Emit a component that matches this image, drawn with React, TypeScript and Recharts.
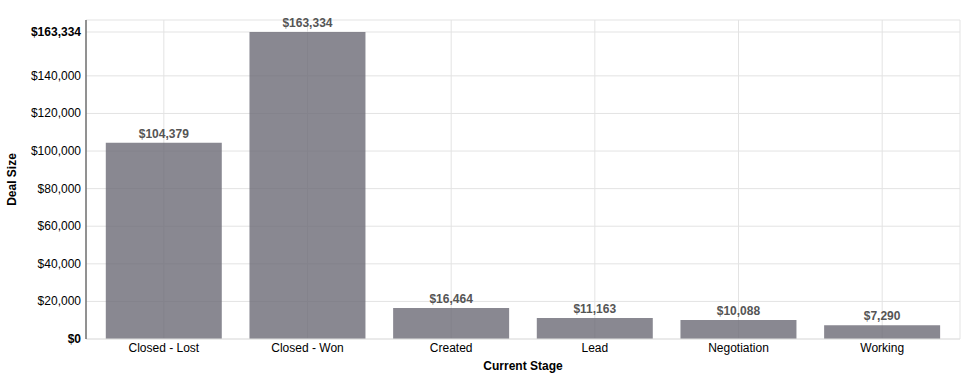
import React from 'react';
import { BarChart, Bar, XAxis, YAxis, CartesianGrid, LabelList, Label } from 'recharts';

const stages = ['Closed - Lost', 'Closed - Won', 'Created', 'Lead', 'Negotiation', 'Working'];
const dealSizes = [104379, 163334, 16464, 11163, 10088, 7290];
const yTicks = [0, 20000, 40000, 60000, 80000, 100000, 120000, 140000, 163334];

const data = stages.map((stage, i) => ({ stage, value: dealSizes[i] }));
const maxValue = Math.max(...dealSizes);

const money = (v: number) => '$' + v.toLocaleString('en-US');

const YTick = (props: any) => {
  const { x, y, payload } = props;
  const bold = payload.value === 0 || payload.value === maxValue;
  return (
    <text
      x={x}
      y={y}
      dy={4}
      textAnchor="end"
      fontSize={12}
      fontWeight={bold ? 'bold' : 'normal'}
      fill="#000"
    >
      {money(payload.value)}
    </text>
  );
};

export default function App() {
  return (
    <div style={{ width: 977, height: 380, fontFamily: '"Liberation Sans", Arial, sans-serif' }}>
      <style>{'body { margin: 0; }'}</style>
      <BarChart
        width={977}
        height={380}
        data={data}
        margin={{ top: 20, right: 17, bottom: 11, left: 26 }}
        barCategoryGap="9.6%"
      >
        <CartesianGrid stroke="#e3e3e3" />
        <XAxis
          dataKey="stage"
          padding={{ left: 6, right: 6 }}
          tickLine={false}
          tickSize={0}
          axisLine={{ stroke: '#e3e3e3' }}
          tick={{ fontSize: 12, fill: '#000' }}
          tickMargin={4}
          height={30}
        >
          <Label
            value="Current Stage"
            position="insideBottom"
            offset={-1}
            style={{ fontSize: 12, fontWeight: 'bold', fill: '#000' }}
          />
        </XAxis>
        <YAxis
          domain={[0, maxValue]}
          ticks={yTicks}
          interval={0}
          padding={{ top: 12 }}
          width={60}
          tickLine={false}
          tickSize={0}
          axisLine={{ stroke: '#333' }}
          tick={<YTick />}
          tickMargin={5}
        >
          <Label
            value="Deal Size"
            angle={-90}
            position="insideLeft"
            offset={-14}
            style={{ fontSize: 12, fontWeight: 'bold', fill: '#000', textAnchor: 'middle' }}
          />
        </YAxis>
        <Bar dataKey="value" fill="#6b6a75" fillOpacity={0.8} isAnimationActive={false}>
          <LabelList
            dataKey="value"
            position="top"
            offset={5}
            formatter={(v: number) => money(v)}
            style={{ fontSize: 12, fontWeight: 'bold', fill: '#555' }}
          />
        </Bar>
      </BarChart>
    </div>
  );
}
